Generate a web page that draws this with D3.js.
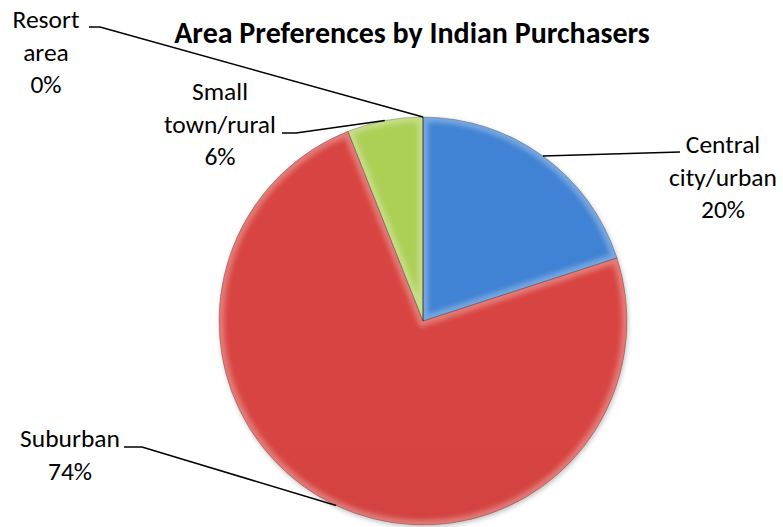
<!DOCTYPE html>
<html lang="en">
<head>
<meta charset="utf-8">
<title>Area Preferences by Indian Purchasers</title>
<script src="https://cdn.jsdelivr.net/npm/d3@7"></script>
<style>
  body { margin: 0; background: #fff; }
  text { font-family: Carlito, Calibri, Lato, sans-serif; fill: #000; }
  .title { font-size: 30px; font-weight: bold; }
  .lbl { font-size: 25.5px; }
  .leader { fill: none; stroke: #000; stroke-width: 1.5; }
</style>
</head>
<body>
<div id="chart"></div>
<script>
  // data
  const categories = ['Central city/urban', 'Suburban', 'Small town/rural', 'Resort area']
  const values = [20, 74, 6, 0]
  const labelLines = [['Central', 'city/urban', '20%'], ['Suburban', '74%'], ['Small', 'town/rural', '6%'], ['Resort', 'area', '0%']]
  const colors = ['#3e7dcc', '#d0423f', '#a6c852', '#7e5fa3']

  // layout of the data labels (text centre x, first baseline y, leader start)
  const labelLayout = [
    { x: 723, y: 153, lx: 680, ly: 152 },
    { x: 70, y: 447, lx: 124, ly: 447, elbow: 142 },
    { x: 220, y: 100, lx: 282, ly: 133, elbow: 296 },
    { x: 46, y: 28, lx: 89, ly: 27, elbow: 100 }
  ]

  const width = 783
  const height = 527
  const cx = 423
  const cy = 321
  const radius = 204
  const lineH = 32.5

  const svg = d3.select('#chart').append('svg')
    .attr('width', width)
    .attr('height', height)

  const defs = svg.append('defs')

  colors.forEach((c, i) => {
    const g = defs.append('linearGradient')
      .attr('id', 'grad' + i)
      .attr('gradientUnits', 'userSpaceOnUse')
      .attr('x1', 0).attr('y1', cy - radius)
      .attr('x2', 0).attr('y2', cy + radius)
    g.append('stop').attr('offset', '0%').attr('stop-color', d3.color(c).brighter(0.1))
    g.append('stop').attr('offset', '100%').attr('stop-color', d3.color(c).darker(0.3))
  })

  const blur = defs.append('filter').attr('id', 'soft')
    .attr('x', '-10%').attr('y', '-10%').attr('width', '120%').attr('height', '120%')
  blur.append('feGaussianBlur').attr('stdDeviation', 2.5)

  const pie = d3.pie().sort(null).value(d => d)
  const arcs = pie(values)

  const arc = d3.arc().innerRadius(0).outerRadius(radius)
  const rimArc = d3.arc().innerRadius(radius).outerRadius(radius)

  // drop shadow under the pie
  svg.append('circle')
    .attr('cx', cx + 1).attr('cy', cy + 2).attr('r', radius)
    .attr('fill', 'rgba(0,0,0,0.25)')
    .attr('filter', 'url(#soft)')

  const gPie = svg.append('g').attr('transform', `translate(${cx},${cy})`)

  // clip paths for the bevel
  arcs.forEach((d, i) => {
    defs.append('clipPath').attr('id', 'clip' + i)
      .append('path').attr('d', arc(d))
  })

  gPie.selectAll('.slice')
    .data(arcs)
    .enter()
    .append('path')
    .attr('class', 'slice')
    .attr('d', arc)
    .attr('fill', (d, i) => `url(#grad${i})`)

  // soft bevel highlight
  gPie.selectAll('.bevel')
    .data(arcs)
    .enter()
    .append('g')
    .attr('clip-path', (d, i) => `url(#clip${i})`)
    .append('path')
    .attr('class', 'bevel')
    .attr('d', arc)
    .attr('fill', 'none')
    .attr('stroke', 'rgba(255,255,255,0.3)')
    .attr('stroke-width', 10)
    .attr('filter', 'url(#soft)')

  gPie.selectAll('.edge')
    .data(arcs)
    .enter()
    .append('path')
    .attr('class', 'edge')
    .attr('d', arc)
    .attr('fill', 'none')
    .attr('stroke', 'rgba(40,20,20,0.3)')
    .attr('stroke-width', 0.8)

  // leader lines
  svg.selectAll('.leader')
    .data(arcs)
    .enter()
    .append('polyline')
    .attr('class', 'leader')
    .attr('points', (d, i) => {
      const L = labelLayout[i]
      const p = rimArc.centroid(d)
      const pts = [[L.lx, L.ly]]
      if (L.elbow) pts.push([L.elbow, L.ly])
      pts.push([cx + p[0], cy + p[1]])
      return pts.map(q => q.join(',')).join(' ')
    })

  // data labels
  const lbl = svg.selectAll('.lbl')
    .data(categories)
    .enter()
    .append('text')
    .attr('class', 'lbl')
    .attr('text-anchor', 'middle')
    .attr('x', (d, i) => labelLayout[i].x)
    .attr('y', (d, i) => labelLayout[i].y)

  lbl.selectAll('tspan')
    .data((d, i) => labelLines[i].map(t => ({ t, x: labelLayout[i].x })))
    .enter()
    .append('tspan')
    .attr('x', d => d.x)
    .attr('dy', (d, j) => j === 0 ? 0 : lineH)
    .text(d => d.t)

  svg.append('text')
    .attr('class', 'title')
    .attr('x', 412)
    .attr('y', 43)
    .attr('text-anchor', 'middle')
    .text('Area Preferences by Indian Purchasers')
</script>
</body>
</html>
